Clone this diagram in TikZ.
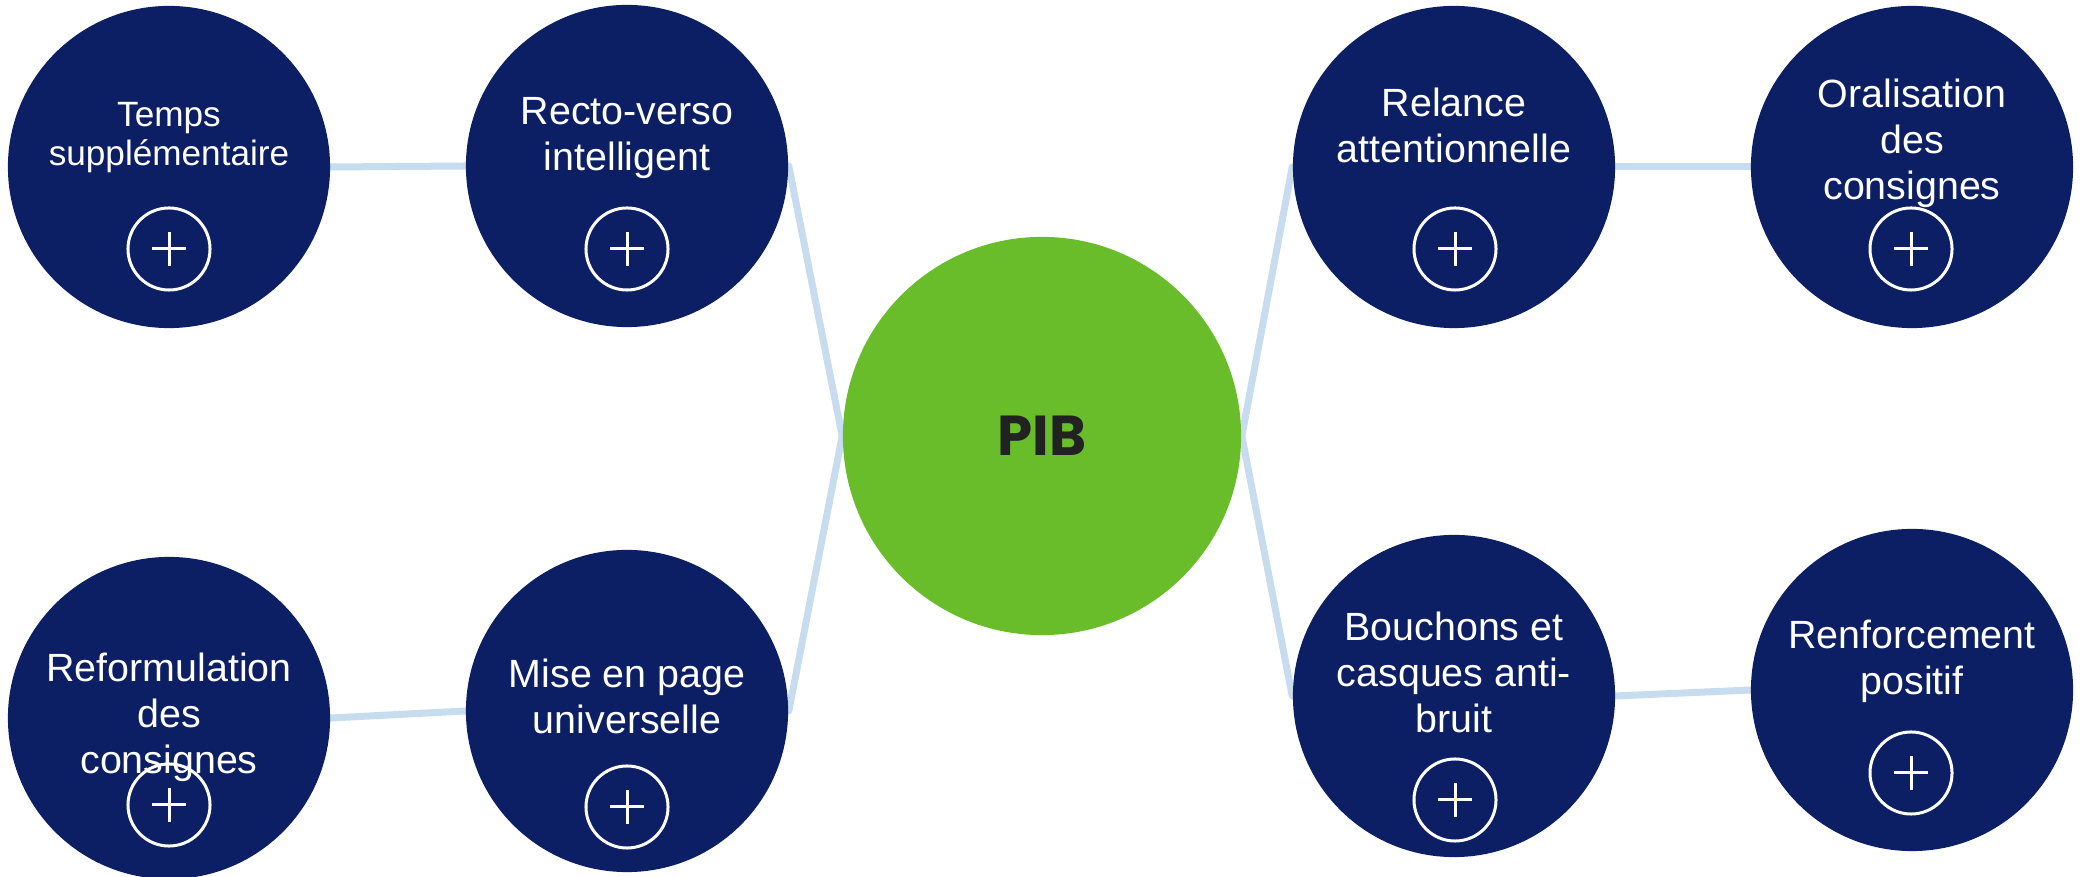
\documentclass[tikz,border=0pt]{standalone}
\usepackage{fontspec}
\setmainfont{Liberation Sans}
\newfontfamily\pibfont{Poppins}
\usetikzlibrary{backgrounds}
\definecolor{pibnavy}{HTML}{0C1E64}
\definecolor{pibgreen}{HTML}{6ABD2A}
\definecolor{pibline}{HTML}{C8DCEF}
\definecolor{pibdark}{HTML}{222222}

\begin{document}
\begin{tikzpicture}[x=0.01cm,y=-0.01cm,
  bubble/.style={circle,fill=pibnavy,minimum size=3.22cm,inner sep=0pt},
  bubbletext/.style={anchor=base,align=center,text=white,font=\fontsize{11.2}{13.1}\selectfont},
  plusicon/.style={circle,draw=white,line width=0.03cm,minimum size=0.82cm,inner sep=0pt,
    path picture={\draw[white,line width=0.03cm] (path picture bounding box.center) +(-17,0) -- +(17,0) +(0,-17) -- +(0,17);}},
  link/.style={draw=pibline,line width=0.07cm,line cap=round}]
  \useasboundingbox (0,0) rectangle (2085,877);

  %% centre
  \node[circle,fill=pibgreen,minimum size=3.98cm,inner sep=0pt,text=pibdark,font=\pibfont\fontsize{16}{18}\selectfont\bfseries] (pib) at (1042,436) {PIB};

  %% left side
  \node[bubble] (temps) at (169,167) {};
  \node[bubbletext,font=\fontsize{10}{11.1}\selectfont] (temps-txt) at (169,166) {Temps\\supplémentaire};
  \node[plusicon] (temps-plus) at (169,249) {};

  \node[bubble] (recto) at (627,166) {};
  \node[bubbletext] (recto-txt) at (627,171) {Recto-verso\\intelligent};
  \node[plusicon] (recto-plus) at (627,249) {};

  \node[bubble] (reform) at (169,718) {};
  \node[bubbletext] (reform-txt) at (169,774) {Reformulation\\des\\consignes};
  \node[plusicon] (reform-plus) at (169,805) {};

  \node[bubble] (mise) at (627,711) {};
  \node[bubbletext] (mise-txt) at (627,734) {Mise en page\\universelle};
  \node[plusicon] (mise-plus) at (627,807) {};

  %% right side
  \node[bubble] (relance) at (1454,167) {};
  \node[bubbletext] (relance-txt) at (1454,163) {Relance\\attentionnelle};
  \node[plusicon] (relance-plus) at (1455,249) {};

  \node[bubble] (oral) at (1912,167) {};
  \node[bubbletext] (oral-txt) at (1912,200) {Oralisation\\des\\consignes};
  \node[plusicon] (oral-plus) at (1911,249) {};

  \node[bubble] (bouchons) at (1454,696) {};
  \node[bubbletext] (bouchons-txt) at (1454,733) {Bouchons et\\casques anti-\\bruit};
  \node[plusicon] (bouchons-plus) at (1455,800) {};

  \node[bubble] (renfo) at (1912,690) {};
  \node[bubbletext] (renfo-txt) at (1912,695) {Renforcement\\positif};
  \node[plusicon] (renfo-plus) at (1911,773) {};

  %% links
  \begin{pgfonlayer}{background}
    \draw[link] (temps.east) -- (recto.west);
    \draw[link] (reform.east) -- (mise.west);
    \draw[link] (recto.east) -- (pib.west);
    \draw[link] (mise.east) -- (pib.west);
    \draw[link] (pib.east) -- (relance.west);
    \draw[link] (pib.east) -- (bouchons.west);
    \draw[link] (relance.east) -- (oral.west);
    \draw[link] (bouchons.east) -- (renfo.west);
  \end{pgfonlayer}
\end{tikzpicture}
\end{document}
